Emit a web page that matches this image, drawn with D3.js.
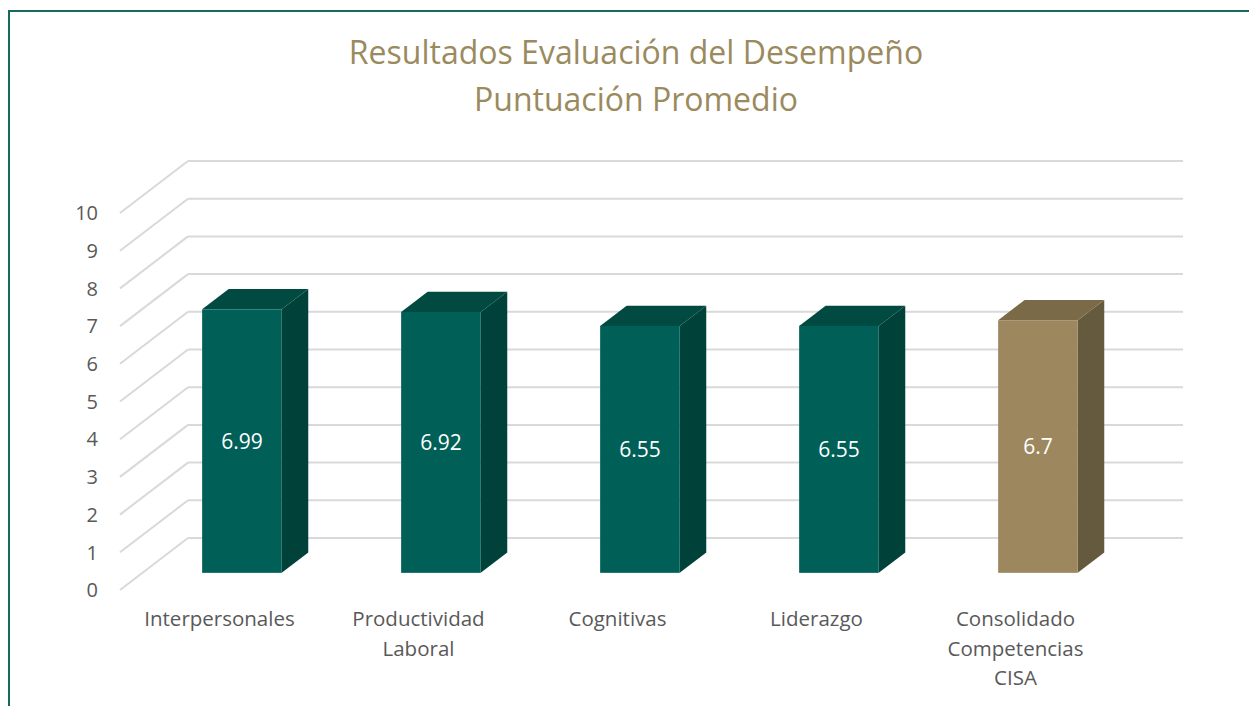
<!DOCTYPE html>
<html>
<head>
<meta charset="utf-8">
<script src="https://cdn.jsdelivr.net/npm/d3@7.9.0/dist/d3.min.js"></script>
<style>
  body { margin: 0; background: #fff; }
  svg { display: block; font-family: 'Open Sans', sans-serif; }
</style>
</head>
<body>
<svg id="chart" width="1249" height="706"></svg>
<script>
const categories = ['Interpersonales', 'Productividad Laboral', 'Cognitivas', 'Liderazgo', 'Consolidado Competencias CISA'];
const values = [6.99, 6.92, 6.55, 6.55, 6.7];
const yTicks = [0, 1, 2, 3, 4, 5, 6, 7, 8, 9, 10];
const titleLines = ['Resultados Evaluación del Desempeño', 'Puntuación Promedio'];

const svg = d3.select('#chart');

// frame
svg.append('rect')
  .attr('x', 9).attr('y', 11)
  .attr('width', 1400).attr('height', 900)
  .attr('fill', 'none')
  .attr('stroke', '#16695d')
  .attr('stroke-width', 2);

// title
svg.append('text')
  .attr('text-anchor', 'middle')
  .attr('fill', '#9b8a5e')
  .style('font-size', '32px')
  .selectAll('tspan')
  .data(titleLines)
  .join('tspan')
  .attr('x', 636)
  .attr('y', (d, i) => 64 + i * 47)
  .text(d => d);

// 3d geometry: depth goes from front (0) to back wall (1)
const depthX = 68, depthY = -52;
const barFront = 0.33, barBack = 0.72;

const x = d3.scaleBand()
  .domain(categories)
  .range([120, 1115])
  .paddingInner(0.6)
  .paddingOuter(0.3);

const y = d3.scaleLinear().domain([0, 10]).range([590, 213]);

const grid = svg.append('g')
  .attr('stroke', '#d9d9d9')
  .attr('stroke-width', 2)
  .attr('fill', 'none');

yTicks.forEach(t => {
  grid.append('line')
    .attr('x1', 120).attr('y1', y(t))
    .attr('x2', 120 + depthX).attr('y2', y(t) + depthY);
  grid.append('line')
    .attr('x1', 120 + depthX).attr('y1', y(t) + depthY)
    .attr('x2', 1115 + depthX).attr('y2', y(t) + depthY);
});

// y tick labels
svg.append('g')
  .selectAll('text')
  .data(yTicks)
  .join('text')
  .attr('x', 98)
  .attr('y', d => y(d))
  .attr('dy', '0.36em')
  .attr('text-anchor', 'end')
  .attr('fill', '#595959')
  .style('font-size', '20px')
  .text(d => d);

// bars
const teal = { front: '#005f57', side: '#00413a', top: '#004a42' };
const tan = { front: '#9c875e', side: '#665a3e', top: '#7a6a48' };

const fx = barFront * depthX, fy = barFront * depthY;
const bx = barBack * depthX, by = barBack * depthY;
const w = x.bandwidth();

const bars = svg.append('g')
  .selectAll('g')
  .data(categories.map((c, i) => ({ c, v: values[i], col: i === 4 ? tan : teal })))
  .join('g');

bars.each(function (d) {
  const g = d3.select(this);
  const x0 = x(d.c) + fx, x1 = x0 + w;
  const yb = y(0) + fy, yt = y(d.v) + fy;
  const ddx = bx - fx, ddy = by - fy;
  g.append('path')
    .attr('fill', d.col.side)
    .attr('d', `M${x1},${yt}L${x1 + ddx},${yt + ddy}L${x1 + ddx},${yb + ddy}L${x1},${yb}Z`);
  g.append('path')
    .attr('fill', d.col.top)
    .attr('d', `M${x0},${yt}L${x0 + ddx},${yt + ddy}L${x1 + ddx},${yt + ddy}L${x1},${yt}Z`);
  g.append('rect')
    .attr('x', x0).attr('y', yt)
    .attr('width', w).attr('height', yb - yt)
    .attr('fill', d.col.front);
  g.append('text')
    .attr('x', x0 + w / 2)
    .attr('y', (yt + yb) / 2)
    .attr('dy', '0.36em')
    .attr('text-anchor', 'middle')
    .attr('fill', '#ffffff')
    .style('font-size', '21px')
    .text(d.v);
});

// category labels, wrapped
const maxWidth = 160;
svg.append('g')
  .selectAll('text')
  .data(categories)
  .join('text')
  .attr('text-anchor', 'middle')
  .attr('fill', '#595959')
  .style('font-size', '20.5px')
  .each(function (d) {
    const t = d3.select(this);
    const cx = x(d) + x.bandwidth() / 2;
    const words = d.split(' ');
    let lines = [], line = [];
    const probe = t.append('tspan');
    words.forEach(word => {
      const test = line.concat(word).join(' ');
      probe.text(test);
      if (line.length && probe.node().getComputedTextLength() > maxWidth) {
        lines.push(line.join(' '));
        line = [word];
      } else {
        line.push(word);
      }
    });
    lines.push(line.join(' '));
    probe.remove();
    lines.forEach((l, i) => {
      t.append('tspan').attr('x', cx).attr('y', 626 + i * 29.5).text(l);
    });
  });
</script>
</body>
</html>
